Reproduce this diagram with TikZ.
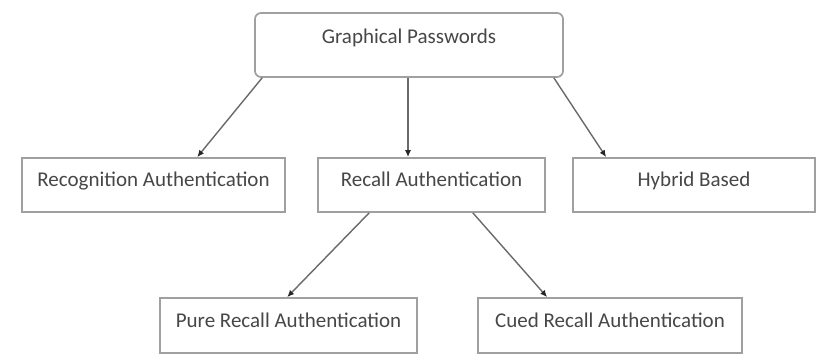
\documentclass[tikz,border=0pt]{standalone}
\usepackage{fontspec}
\setmainfont{Carlito}
\usetikzlibrary{arrows.meta,calc}
\definecolor{boxline}{HTML}{A0A0A0}
\definecolor{arrline}{HTML}{6A6A6A}
\definecolor{txt}{HTML}{474747}
\begin{document}
\begin{tikzpicture}[x=1pt,y=-1pt,
  box/.style={draw=boxline,line width=1.7pt,fill=white,inner sep=0pt,
    text=txt,font=\fontsize{21}{23}\selectfont,text height=14pt,text depth=11pt},
  topbox/.style={box,rounded corners=6pt,text depth=17pt},
  arr/.style={draw=arrline,line width=1.4pt,-{Latex[length=7pt,width=6pt,color=black!85]}}]
\useasboundingbox[fill=white] (0,0) rectangle (818,356);
\node[topbox,minimum width=308pt,minimum height=64pt] (top) at (409,45) {Graphical Passwords};
\node[box,minimum width=263pt,minimum height=54pt] (rec) at (153.5,185) {Recognition Authentication};
\node[box,minimum width=227pt,minimum height=54pt] (recall) at (431.5,185) {Recall Authentication};
\node[box,minimum width=242pt,minimum height=54pt] (hyb) at (694,185) {Hybrid Based};
\node[box,minimum width=257pt,minimum height=55pt] (pure) at (288.5,325.5) {Pure Recall Authentication};
\node[box,minimum width=264pt,minimum height=55pt] (cued) at (610,325.5) {Cued Recall Authentication};
\coordinate (recin) at ($(recall.north)+(-23.5,0)$);
\draw[arr] ($(top.south west)+(8,0)$) -- ($(rec.north west)+(176,0)$);
\draw[arr] (recin |- top.south) -- (recin);
\draw[arr] ($(top.south east)+(-10,0)$) -- ($(hyb.north west)+(34,0)$);
\draw[arr] ($(recall.south west)+(52,0)$) -- ($(pure.north west)+(128,0)$);
\draw[arr] ($(recall.south east)+(-73,0)$) -- ($(cued.north west)+(70,0)$);
\end{tikzpicture}
\end{document}
